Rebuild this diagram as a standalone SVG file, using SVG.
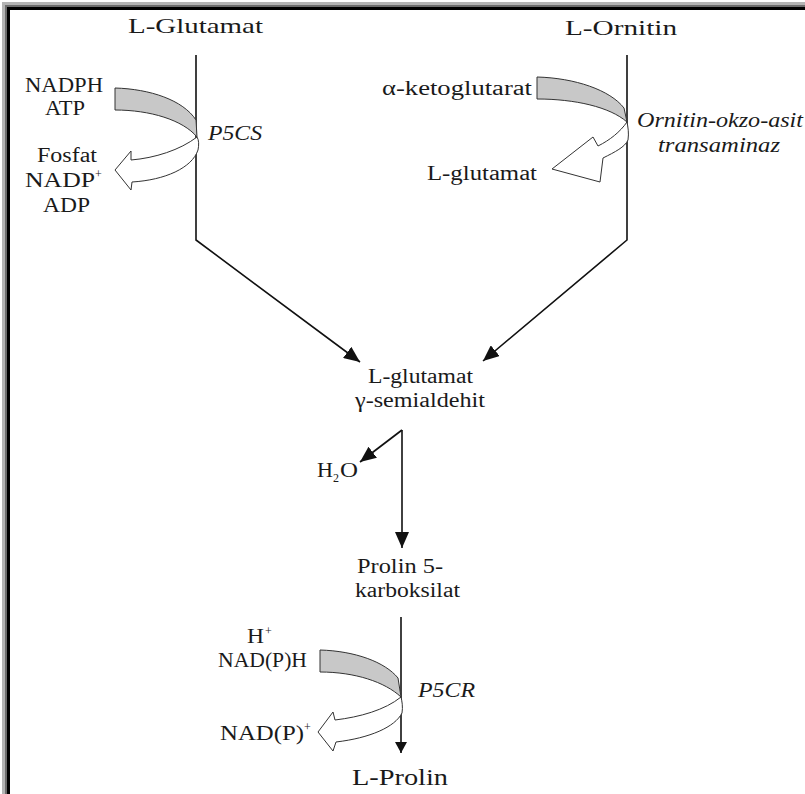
<svg xmlns="http://www.w3.org/2000/svg" width="805" height="794" viewBox="0 0 805 794">
<style>
text{font-family:"Liberation Serif","Times New Roman",serif;fill:#1a1a1a;font-size:20px}
.it{font-style:italic}
.sup{font-size:12px}
.big{font-size:24px}
.ln{stroke:#111;stroke-width:1.6;fill:none}
.band{fill:#c8c8c8;stroke:#333;stroke-width:1}
.wa{fill:#fff;stroke:#333;stroke-width:1}
</style>
<defs>
<marker id="ah" markerUnits="userSpaceOnUse" markerWidth="18" markerHeight="14" refX="16" refY="7" orient="auto">
<path d="M0,0 L16,7 L0,14 Z" fill="#111"/>
</marker>
<marker id="ahs" markerUnits="userSpaceOnUse" markerWidth="12" markerHeight="12" refX="11" refY="6" orient="auto">
<path d="M0,0 L11,6 L0,12 Z" fill="#111"/>
</marker>
</defs>
<rect width="805" height="794" fill="#fff"/>
<g id="frame">
<rect x="2" y="2" width="803" height="3" fill="#b4b4b4"/>
<rect x="2" y="2" width="3" height="792" fill="#b4b4b4"/>
<rect x="5" y="5" width="800" height="2" fill="#6e6e6e"/>
<rect x="5" y="5" width="2" height="789" fill="#6e6e6e"/>
<rect x="7" y="7" width="798" height="3" fill="#000"/>
<rect x="7" y="7" width="3" height="787" fill="#000"/>
</g>
<g id="connectors">
<polyline class="ln" points="196,55 196,240 360,362" marker-end="url(#ah)"/>
<polyline class="ln" points="627,55 627,240 483,361" marker-end="url(#ah)"/>
<line class="ln" x1="402" y1="430" x2="402" y2="548" marker-end="url(#ah)"/>
<line class="ln" x1="402" y1="430" x2="360" y2="462" marker-end="url(#ah)"/>
<line class="ln" x1="401" y1="617" x2="401" y2="753" marker-end="url(#ahs)"/>
</g>
<g id="p5cs-cofactor">
<path class="band" d="M115,88 C150,89 183,100 196,120 L197,137 C183,120 150,110 115,110 Z"/>
<path class="wa" d="M197,137 C180,150 155,158 131,160 L131,151 L115,170 L131,190 L132,182 C165,180 192,168 198,150 C199,145 199,140 197,137 Z"/>
</g>
<g id="oat-cofactor">
<path class="band" d="M537,77 C575,78 610,90 624,108 L627,122 C610,107 575,99 537,99 Z"/>
<path class="wa" d="M627,122 C620,132 610,140 598,146 L593,137 L552,169 L600,182 L603,158 C615,152 625,147 628,140 C629,133 628,127 627,122 Z"/>
</g>
<g id="p5cr-cofactor">
<path class="band" d="M320,650 C355,651 385,662 398,678 L401,697 C385,682 355,672 320,672 Z"/>
<path class="wa" d="M401,697 C385,710 360,717 335,720 L333,712 L318,732 L333,751 L336,742 C370,738 395,727 402,713 C403,707 402,701 401,697 Z"/>
</g>
<g id="l-glutamat-top"><text x="128" y="33" textLength="135" lengthAdjust="spacingAndGlyphs" style="font-size:21px">L-Glutamat</text></g>
<g id="l-ornitin"><text x="565" y="35" textLength="112" lengthAdjust="spacingAndGlyphs" style="font-size:21px">L-Ornitin</text></g>
<g id="p5cs-in">
<text x="25" y="92" textLength="78" lengthAdjust="spacingAndGlyphs">NADPH</text>
<text x="45" y="115" textLength="40" lengthAdjust="spacingAndGlyphs">ATP</text>
</g>
<g id="p5cs-out">
<text x="37" y="162" textLength="60" lengthAdjust="spacingAndGlyphs">Fosfat</text>
<text x="25" y="187" textLength="70" lengthAdjust="spacingAndGlyphs">NADP</text>
<text class="sup" x="95" y="178">+</text>
<text x="43" y="212" textLength="47" lengthAdjust="spacingAndGlyphs">ADP</text>
</g>
<g id="p5cs"><text class="it" x="208" y="140" textLength="54" lengthAdjust="spacingAndGlyphs">P5CS</text></g>
<g id="akg"><text x="382" y="95" textLength="150" lengthAdjust="spacingAndGlyphs">α-ketoglutarat</text></g>
<g id="oat">
<text class="it" x="637" y="127" textLength="166" lengthAdjust="spacingAndGlyphs">Ornitin-okzo-asit</text>
<text class="it" x="658" y="152" textLength="122" lengthAdjust="spacingAndGlyphs">transaminaz</text>
</g>
<g id="l-glutamat-out"><text x="427" y="180" textLength="110" lengthAdjust="spacingAndGlyphs">L-glutamat</text></g>
<g id="gsa">
<text x="368" y="383" textLength="105" lengthAdjust="spacingAndGlyphs">L-glutamat</text>
<text x="355" y="407" textLength="130" lengthAdjust="spacingAndGlyphs">γ-semialdehit</text>
</g>
<g id="h2o">
<text x="317" y="477" textLength="16" lengthAdjust="spacingAndGlyphs">H</text>
<text class="sup" x="333" y="482">2</text>
<text x="340" y="477" textLength="18" lengthAdjust="spacingAndGlyphs">O</text>
</g>
<g id="p5c">
<text x="357" y="573" textLength="86" lengthAdjust="spacingAndGlyphs">Prolin 5-</text>
<text x="355" y="597" textLength="105" lengthAdjust="spacingAndGlyphs">karboksilat</text>
</g>
<g id="p5cr-in">
<text x="247" y="643" textLength="17" lengthAdjust="spacingAndGlyphs">H</text>
<text class="sup" x="265" y="635">+</text>
<text x="218" y="667" textLength="89" lengthAdjust="spacingAndGlyphs">NAD(P)H</text>
</g>
<g id="p5cr"><text class="it" x="418" y="697" textLength="57" lengthAdjust="spacingAndGlyphs">P5CR</text></g>
<g id="p5cr-out">
<text x="220" y="740" textLength="84" lengthAdjust="spacingAndGlyphs">NAD(P)</text>
<text class="sup" x="304" y="731">+</text>
</g>
<g id="l-prolin"><text class="big" x="352" y="785" textLength="96" lengthAdjust="spacingAndGlyphs">L-Prolin</text></g>
</svg>
